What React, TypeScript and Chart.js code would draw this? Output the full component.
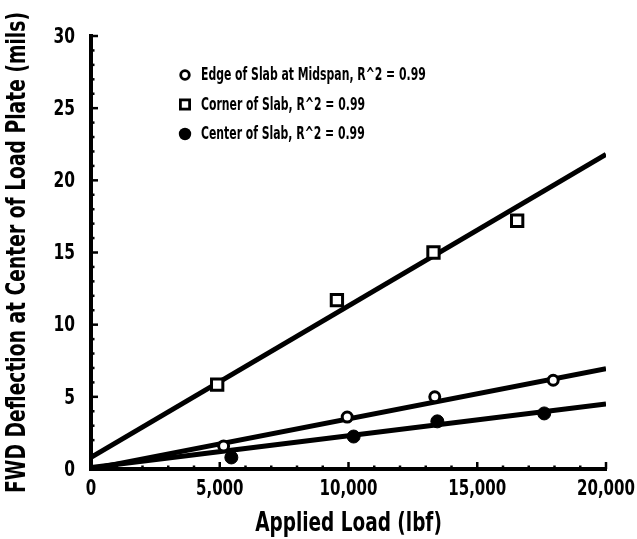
import { useEffect, useRef } from "react";
import { Chart, registerables } from "chart.js";

Chart.register(...registerables);

const FONT = '"Liberation Sans Narrow", "Arial Narrow", "DejaVu Sans Condensed", sans-serif';

const xTitle = "Applied Load (lbf)";
const yTitle = "FWD Deflection at Center of Load Plate (mils)";

const seriesLabels = [
  "Edge of Slab at Midspan, R^2 = 0.99",
  "Corner of Slab, R^2 = 0.99",
  "Center of Slab, R^2 = 0.99",
];

// measured FWD deflections (mils) against applied load (lbf)
const edgeLoads = [5150, 9950, 13350, 17950];
const edgeDefl = [1.6, 3.6, 5.0, 6.15];
const cornerLoads = [4900, 9550, 13300, 16550];
const cornerDefl = [5.85, 11.7, 15.0, 17.2];
const centerLoads = [5450, 10200, 13450, 17600];
const centerDefl = [0.8, 2.25, 3.3, 3.85];

// linear fits, evaluated at both ends of the load range
const fitLoads = [0, 20000];
const edgeFit = [0.0, 6.95];
const cornerFit = [0.8, 21.8];
const centerFit = [0.1, 4.5];

const xMax = 20000;
const xMajorStep = 5000;
const xMinorStep = 1000;
const yMax = 30;
const yMajorStep = 5;
const yMinorStep = 1;

const pts = (xs: number[], ys: number[]) => xs.map((x, i) => ({ x, y: ys[i] }));
const fmtLoad = (v: number) => v.toLocaleString("en-US");

// horizontally squeezed text, for a condensed look
function condensedText(
  ctx: CanvasRenderingContext2D,
  text: string,
  x: number,
  y: number,
  sx: number,
  rot = 0
) {
  ctx.save();
  ctx.translate(x, y);
  if (rot) ctx.rotate(rot);
  ctx.scale(sx, 1);
  ctx.fillText(text, 0, 0);
  ctx.restore();
}

// short tick marks drawn inside the plot frame
const inwardTicks = {
  id: "inwardTicks",
  afterDraw(chart: any) {
    const { ctx, chartArea: a, scales } = chart;
    const x = scales.x;
    const y = scales.y;
    ctx.save();
    ctx.strokeStyle = "#000";
    ctx.lineWidth = 2.5;
    for (let v = xMinorStep; v <= xMax; v += xMinorStep) {
      const px = x.getPixelForValue(v);
      const len = v % xMajorStep === 0 ? 7 : 3.5;
      ctx.beginPath();
      ctx.moveTo(px, a.bottom);
      ctx.lineTo(px, a.bottom - len);
      ctx.stroke();
    }
    for (let v = yMinorStep; v <= yMax; v += yMinorStep) {
      const py = y.getPixelForValue(v);
      const len = v % yMajorStep === 0 ? 7 : 3.5;
      ctx.beginPath();
      ctx.moveTo(a.left, py);
      ctx.lineTo(a.left + len, py);
      ctx.stroke();
    }
    ctx.restore();
  },
};

// tick labels and axis titles in a narrow bold face
const axisText = {
  id: "axisText",
  afterDraw(chart: any) {
    const { ctx, chartArea: a, scales } = chart;
    const x = scales.x;
    const y = scales.y;
    ctx.save();
    ctx.fillStyle = "#000";

    ctx.font = `bold 22px ${FONT}`;
    ctx.textAlign = "center";
    ctx.textBaseline = "middle";
    x.ticks.forEach((t: any) => {
      condensedText(ctx, fmtLoad(t.value), x.getPixelForValue(t.value), a.bottom + 20, 0.76);
    });
    ctx.textAlign = "right";
    y.ticks.forEach((t: any) => {
      condensedText(ctx, String(t.value), a.left - 16, y.getPixelForValue(t.value) + 1, 0.78);
    });

    ctx.font = `bold 26px ${FONT}`;
    ctx.textAlign = "center";
    condensedText(ctx, xTitle, (a.left + a.right) / 2, x.bottom - 15, 0.79);
    condensedText(ctx, yTitle, y.left + 18, (a.top + a.bottom) / 2, 0.8, -Math.PI / 2);
    ctx.restore();
  },
};

// key placed inside the plot area, top left
const insideLegend = {
  id: "insideLegend",
  afterDraw(chart: any) {
    const { ctx, chartArea: a } = chart;
    const mx = a.left + 94;
    const tx = a.left + 110;
    const y0 = a.top + 39;
    const rowH = 29.5;
    ctx.save();
    ctx.font = `bold 17px ${FONT}`;
    ctx.textBaseline = "middle";
    ctx.textAlign = "left";
    seriesLabels.forEach((label, i) => {
      const cy = y0 + i * rowH;
      ctx.strokeStyle = "#000";
      ctx.lineWidth = 2.8;
      if (i === 0) {
        ctx.beginPath();
        ctx.arc(mx, cy, 4.3, 0, Math.PI * 2);
        ctx.fillStyle = "#fff";
        ctx.fill();
        ctx.stroke();
      } else if (i === 1) {
        ctx.fillStyle = "#fff";
        ctx.fillRect(mx - 4.6, cy - 4.6, 9.2, 9.2);
        ctx.strokeRect(mx - 4.6, cy - 4.6, 9.2, 9.2);
      } else {
        ctx.beginPath();
        ctx.arc(mx, cy, 6.2, 0, Math.PI * 2);
        ctx.fillStyle = "#000";
        ctx.fill();
      }
      ctx.fillStyle = "#000";
      condensedText(ctx, label, tx, cy + 1, 0.71);
    });
    ctx.restore();
  },
};

export default function App() {
  const canvasRef = useRef<HTMLCanvasElement | null>(null);

  useEffect(() => {
    const canvas = canvasRef.current;
    if (!canvas) return;

    const fitLine = (data: number[]) => ({
      type: "line" as const,
      data: pts(fitLoads, data),
      showLine: true,
      borderColor: "#000",
      borderWidth: 5,
      pointRadius: 0,
      fill: false,
      order: 1,
    });

    const chart = new Chart(canvas, {
      type: "scatter",
      data: {
        datasets: [
          {
            label: seriesLabels[0],
            data: pts(edgeLoads, edgeDefl),
            pointStyle: "circle",
            pointRadius: 5,
            pointBackgroundColor: "#fff",
            pointBorderColor: "#000",
            pointBorderWidth: 3,
            order: 0,
          },
          {
            label: seriesLabels[1],
            data: pts(cornerLoads, cornerDefl),
            pointStyle: "rect",
            pointRadius: 8,
            pointBackgroundColor: "#fff",
            pointBorderColor: "#000",
            pointBorderWidth: 3,
            order: 0,
          },
          {
            label: seriesLabels[2],
            data: pts(centerLoads, centerDefl),
            pointStyle: "circle",
            pointRadius: 6.5,
            pointBackgroundColor: "#000",
            pointBorderColor: "#000",
            pointBorderWidth: 1,
            order: 0,
          },
          fitLine(edgeFit) as any,
          fitLine(cornerFit) as any,
          fitLine(centerFit) as any,
        ],
      },
      options: {
        animation: false,
        responsive: false,
        devicePixelRatio: 1,
        layout: { padding: { top: 36, right: 31, left: 0, bottom: 0 } },
        plugins: {
          legend: { display: false },
          tooltip: { enabled: false },
        },
        scales: {
          x: {
            type: "linear",
            min: 0,
            max: xMax,
            afterFit: (s: any) => {
              s.height = 70;
              s.paddingLeft = 0;
              s.paddingRight = 0;
            },
            grid: { display: false, drawTicks: false },
            border: { display: true, color: "#000", width: 4 },
            ticks: { display: false, stepSize: xMajorStep },
            title: { display: false, text: xTitle },
          },
          y: {
            type: "linear",
            min: 0,
            max: yMax,
            afterFit: (s: any) => {
              s.width = 91;
              s.paddingTop = 0;
              s.paddingBottom = 0;
            },
            grid: { display: false, drawTicks: false },
            border: { display: true, color: "#000", width: 4 },
            ticks: { display: false, stepSize: yMajorStep },
            title: { display: false, text: yTitle },
          },
        },
      },
      plugins: [inwardTicks, axisText, insideLegend],
    });

    return () => chart.destroy();
  }, []);

  return (
    <div style={{ position: "fixed", left: 0, top: 0, width: 637, height: 539, background: "#fff" }}>
      <canvas ref={canvasRef} width={637} height={539} />
    </div>
  );
}
